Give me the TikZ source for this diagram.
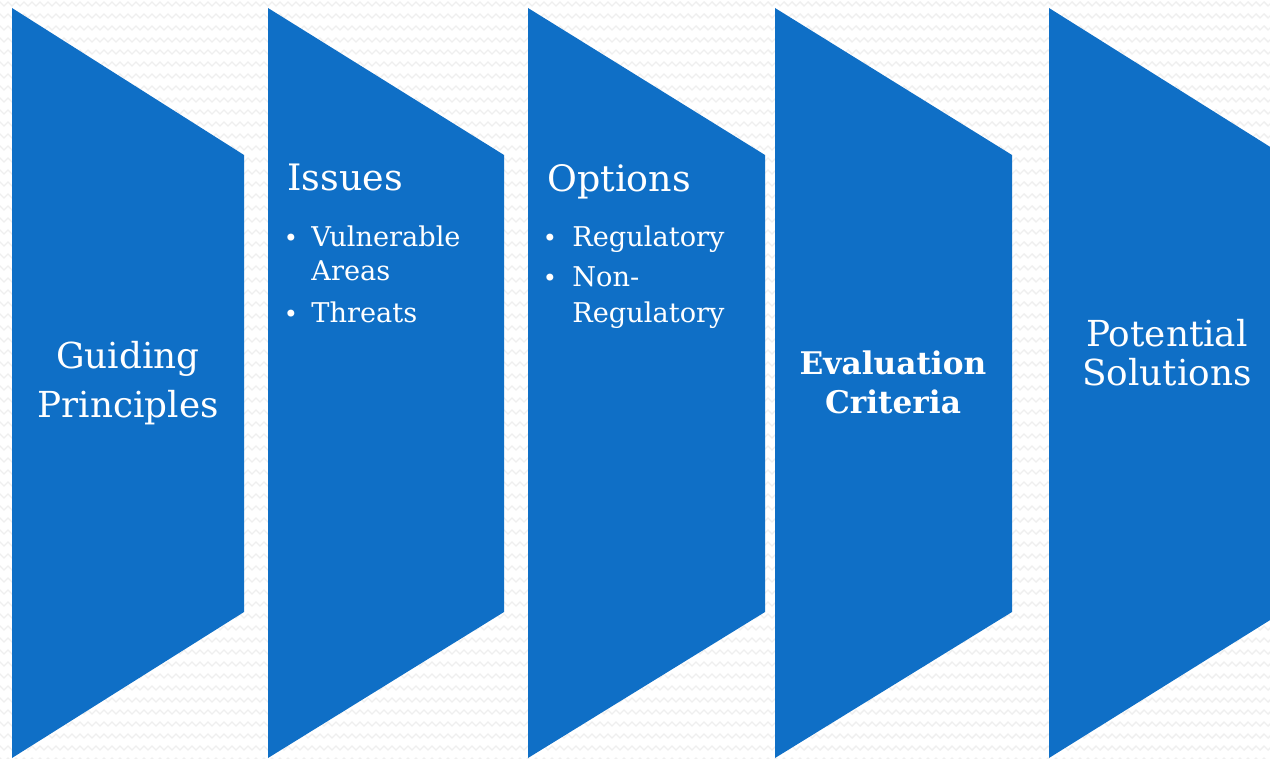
\documentclass[tikz,border=0pt]{standalone}
\usepackage{fontspec}
\setmainfont{DejaVu Serif}
\usetikzlibrary{decorations.pathmorphing}
\definecolor{chev}{HTML}{0F6FC6}
\definecolor{zig}{HTML}{EFEFEF}
\tikzset{
  chevron/.style={fill=chev, draw=none},
  bgzig/.style={draw=zig, line width=0.7pt, decorate,
    decoration={zigzag, segment length=4pt, amplitude=1pt}},
  txt/.style={text=white, inner sep=0pt, anchor=base},
  txtw/.style={txt, anchor=base west},
  big/.style={font=\fontsize{17.9}{22}\selectfont},
  ttl/.style={font=\fontsize{18.2}{22}\selectfont},
  itm/.style={font=\fontsize{13.6}{17}\selectfont},
  bul/.style={txt, font=\fontsize{12}{14}\selectfont},
  bld/.style={font=\bfseries\fontsize{15.6}{19}\selectfont}
}
\begin{document}
\begin{tikzpicture}[x=0.5pt, y=-0.5pt]
  \useasboundingbox (0,0) rectangle (1270,759);
  \clip (0,0) rectangle (1270,759);
  \fill[white] (0,0) rectangle (1270,759);
  \foreach \yy in {4,16,...,760} {
    \draw[bgzig] (-10,\yy) -- (1280,\yy);
  }
  % chevrons
  \fill[chevron] (12,8) -- (244,155) -- (244,612) -- (12,758) -- cycle;
  \fill[chevron] (268,8) -- (504,155) -- (504,612) -- (268,758) -- cycle;
  \fill[chevron] (528,8) -- (765,155) -- (765,612) -- (528,758) -- cycle;
  \fill[chevron] (775,8) -- (1012,155) -- (1012,612) -- (775,758) -- cycle;
  \fill[chevron] (1049,8) -- (1283,155) -- (1283,612) -- (1049,758) -- cycle;
  % texts
  \node[txt, big] (g1) at (128,369) {Guiding};
  \node[txt, big] (g2) at (128,417) {Principles};

  \node[txtw, ttl] (is) at (287,191) {Issues};
  \node[bul] (b1) at (291,247) {•};
  \node[txtw, itm] (i1) at (311,247) {Vulnerable};
  \node[txtw, itm] (i2) at (311,281) {Areas};
  \node[bul] (b2) at (291,323) {•};
  \node[txtw, itm] (i3) at (311,323) {Threats};

  \node[txtw, ttl] (op) at (547,192) {Options};
  \node[bul] (b3) at (550,247) {•};
  \node[txtw, itm] (o1) at (572,247) {Regulatory};
  \node[bul] (b4) at (550,287) {•};
  \node[txtw, itm] (o2) at (572,287) {Non-};
  \node[txtw, itm] (o3) at (572,323) {Regulatory};

  \node[txt, bld] (e1) at (893,375) {Evaluation};
  \node[txt, bld] (e2) at (893,414) {Criteria};

  \node[txt, big] (p1) at (1167,347) {Potential};
  \node[txt, big] (p2) at (1167,386) {Solutions};
\end{tikzpicture}
\end{document}
